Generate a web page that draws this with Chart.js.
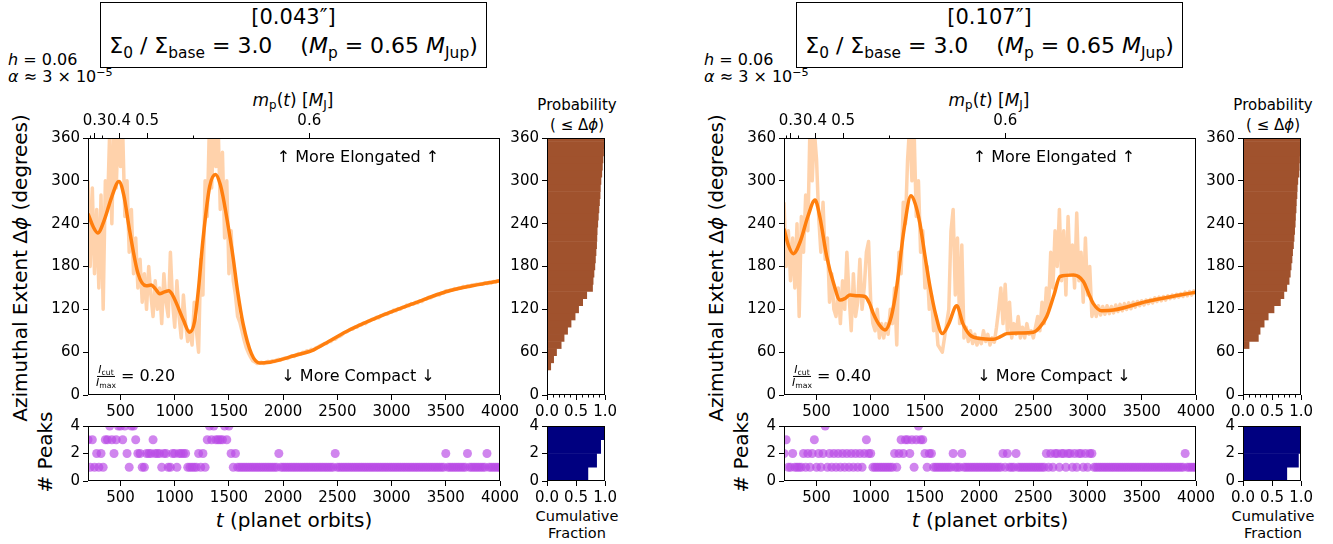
<!DOCTYPE html>
<html><head><meta charset="utf-8">
<script src="https://cdn.jsdelivr.net/npm/chart.js@4.4.1/dist/chart.umd.min.js"></script>
<style>
html,body{margin:0;padding:0;background:#fff}
body{width:1333px;height:544px;position:relative;overflow:hidden;font-family:'DejaVu Sans',sans-serif;color:#000}
canvas{position:absolute}
.tx{position:absolute;white-space:nowrap;line-height:1;transform:translate(-50%,-50%)}
.tl{position:absolute;white-space:nowrap;line-height:1;transform:translate(0,-50%)}
.rot{position:absolute;white-space:nowrap;line-height:1;transform:translate(-50%,-50%) rotate(-90deg)}
sub{font-size:70%;vertical-align:-0.3em;line-height:0}
sup{font-size:70%;vertical-align:0.55em;line-height:0}
.box{position:absolute;border:1.3px solid #000;box-sizing:border-box}
.frac{display:inline-flex;flex-direction:column;align-items:center;vertical-align:middle;font-size:11px;line-height:1.05}
.frac .num{border-bottom:1px solid #000;padding:0 1px}
</style></head><body>
<script>
// ---------------- DATA ----------------
// time grid of the Δφ time series (planet orbits)
const times = [];
for (let t = 200; t <= 4000; t += 20) times.push(t);

const xTicks = [500, 1000, 1500, 2000, 2500, 3000, 3500, 4000];
const yTicks = [0, 60, 120, 180, 240, 300, 360];
const peakTicks = [0, 2, 4];
const fracTicks = [0, 0.5, 1.0];
const fracMinor = [0.1, 0.2, 0.3, 0.4, 0.6, 0.7, 0.8, 0.9];
// top axis: planet mass m_p(t) at these times
const massTickT = [262, 486, 745, 2241];
const massTickLabels = ['0.3', '0.4', '0.5', '0.6'];
const massMinorT = [215, 330, 1165];

// left panel [0.043"] : raw Δφ (every 20 orbits from t=200)
const rawLeft = [
 300,180,290,170,260,150,280,120,300,260,
 370,240,380,290,380,320,370,250,300,200,
 260,170,220,150,190,130,170,120,180,140,
 110,160,120,150,100,170,130,110,200,130,
 95,160,110,80,140,100,75,90,70,130,
 90,60,190,140,300,250,380,290,370,320,
 380,260,340,220,300,170,230,160,140,110,
 102,90,77,66,59,53,48,46,44,45,
 46,44,46,47,46,48,47,49,50,49,
 51,52,51,53,55,54,56,58,57,60,
 60,62,61,64,63,66,67,69,70,72,
 72,75,75,78,78,81,82,84,87,88,
 90,92,92,95,95,98,98,101,100,103,
 104,106,106,109,108,111,112,114,113,116,
 116,119,118,121,120,123,123,126,125,128,
 127,130,129,132,131,134,134,137,136,138,
 139,141,140,143,143,146,145,147,147,149,
 148,150,150,152,151,153,152,154,154,155,
 155,156,156,157,156,158,157,159,158,160,
 160];
// left panel smoothed Δφ
const smoothLeftT = [200,250,290,350,420,485,530,583,660,737,783,820,860,900,946,980,1014,1080,1137,1183,1220,1260,1322,1377,1420,1445,1500,1537,1580,1630,1707,1784,1880,1968,2100,2276,2420,2584,2892,3200,3508,3815,4000];
const smoothLeftV = [254,235,227,245,278,299,280,231,171,153,154,149,142,144,146,140,129,105,88,103,150,217,292,309,295,278,230,194,145,100,58,45,46,49,55,63,75,89,110,128,145,155,160];
// left panel number of peaks (every 20 orbits from t=200, 10 per group)
const peaksLeft = [
 "3131212133","4323443421","4432211222","3222122112","2122221111",
 "1212134343","3334342121","1111111111","1111111121","1111111111",
 "1111111111","1111211111","1111111111","1111111111","1111111111",
 "1111111111","1111121111","1111121111","1111211111","1"].join('');

// right panel [0.107"]
const rawRight = [
 270,180,230,160,220,150,240,110,250,200,
 280,230,380,300,370,330,250,200,270,190,
 220,130,170,120,110,150,100,160,120,200,
 140,90,170,110,130,190,120,150,200,215,
 130,100,90,120,80,100,80,100,85,120,
 100,150,70,200,170,270,240,330,380,300,
 370,250,300,200,230,150,180,120,140,90,
 110,70,65,60,80,100,120,230,260,140,
 220,100,210,80,95,75,90,72,85,70,
 80,72,90,75,85,70,80,74,95,120,
 150,100,155,90,130,80,100,85,110,80,
 95,80,100,85,90,80,95,110,90,130,
 100,150,120,200,150,230,180,260,160,230,
 140,250,170,210,150,255,160,200,130,220,
 140,180,110,125,110,125,112,124,113,125,
 114,124,115,126,117,127,118,128,120,129,
 121,130,123,131,125,132,126,133,128,134,
 129,136,131,137,132,138,133,139,135,140,
 136,141,137,142,138,144,139,145,140,146,
 142];
const smoothRightT = [200,240,286,350,420,486,530,594,660,717,760,809,880,947,990,1024,1080,1132,1190,1240,1310,1371,1410,1454,1500,1546,1600,1660,1720,1793,1850,1915,2008,2131,2200,2254,2377,2500,2560,2623,2690,2746,2869,2961,3010,3053,3130,3239,3545,3852,4000];
const smoothRightV = [233,210,198,215,250,273,250,194,155,133,135,140,139,138,128,114,98,91,110,152,235,279,268,240,195,152,112,86,100,125,100,84,79,78,82,86,87,88,95,110,140,166,168,159,142,128,118,119,131,140,144];
const peaksRight = [
 "2311211112","1212312124","1212121212","1212121232","2111111111",
 "1212323323","1343321221","1111111121","1121111111","1111111111",
 "1212111211","1111111111","1212122122","1221212212","1221111111",
 "1111111111","1111111111","1111111111","1111121111","1"].join('');

// cumulative probability histograms of Δφ (bin centres, 10° bins)
const histBins = [40,50,60,70,80,90,100,110,120,130,140,150,160,170,180,190,200,210,220,230,240,250,260,270,280,290,300,310,320,330,340,350,360];
const histLeft = [0.07,0.12,0.17,0.25,0.30,0.36,0.42,0.49,0.55,0.62,0.69,0.79,0.80,0.815,0.83,0.84,0.85,0.86,0.865,0.87,0.88,0.89,0.90,0.91,0.92,0.925,0.935,0.95,0.96,0.97,0.98,0.99,1.0];
const histRight = [0,0,0.01,0.11,0.27,0.30,0.37,0.44,0.54,0.65,0.71,0.76,0.80,0.82,0.835,0.85,0.86,0.875,0.885,0.895,0.905,0.91,0.92,0.925,0.935,0.94,0.95,0.97,0.975,0.98,0.985,0.99,1.0];
// cumulative fraction of # peaks
const peakBins = [0.5, 1.5, 2.5, 3.5];
const cumLeft = [0.71, 0.86, 0.93, 1.0];
const cumRight = [0.76, 0.96, 1.0, 1.0];

// ---------------- DRAWING ----------------
Chart.defaults.font.family = "'DejaVu Sans', sans-serif";
const TF = {family: "'DejaVu Sans', sans-serif", size: 15};

const boxPlugin = {id: 'box', afterDraw(c) {
  const a = c.chartArea, x = c.ctx;
  x.save(); x.strokeStyle = '#000'; x.lineWidth = 1;
  x.strokeRect(Math.round(a.left) + 0.5, Math.round(a.top) + 0.5, Math.round(a.right - a.left) - 1, Math.round(a.bottom - a.top) - 1);
  x.restore();
}};
function minorPlugin(axisId, values, len, side) {
  return {id: 'minor' + axisId, afterDraw(c) {
    const s = c.scales[axisId], a = c.chartArea, x = c.ctx;
    x.save(); x.strokeStyle = '#000'; x.lineWidth = 1; x.beginPath();
    values.forEach(v => {
      const p = Math.round(s.getPixelForValue(v)) + 0.5;
      if (side === 'top') { x.moveTo(p, a.top); x.lineTo(p, a.top - len); }
      else { x.moveTo(p, a.bottom); x.lineTo(p, a.bottom + len); }
    });
    x.stroke(); x.restore();
  }};
}
function ax(o) {
  const base = {
    type: 'linear', offset: false,
    grid: {display: true, offset: false, drawOnChartArea: false, drawTicks: true, tickLength: 5, color: '#000', lineWidth: 1},
    border: {display: false},
    ticks: {color: '#000', font: TF, padding: 3, autoSkip: false, maxRotation: 0, minRotation: 0, callback: v => String(v)}
  };
  const r = Object.assign({}, base, o);
  r.ticks = Object.assign({}, base.ticks, o.ticks || {});
  return r;
}
function fixTicks(vals) { return s => { s.ticks = vals.map(v => ({value: v})); }; }
function mkCanvas(left, top, w, h) {
  const c = document.createElement('canvas');
  c.width = w; c.height = h;
  c.style.left = left + 'px'; c.style.top = top + 'px';
  c.style.width = w + 'px'; c.style.height = h + 'px';
  document.body.appendChild(c);
  return c;
}
const baseOpts = {responsive: false, animation: false, events: [], devicePixelRatio: 1,
  plugins: {legend: {display: false}, tooltip: {enabled: false}}};

function txt(html, cx, cy, size, cls) {
  const d = document.createElement('div');
  d.className = cls || 'tx';
  d.style.left = cx + 'px'; d.style.top = cy + 'px'; d.style.fontSize = size + 'px';
  d.innerHTML = html;
  document.body.appendChild(d);
  return d;
}

function panel(dx, sp) {
  // title box
  const b = document.createElement('div');
  b.className = 'box';
  b.style.left = (100 + dx) + 'px'; b.style.top = '2px'; b.style.width = '387px'; b.style.height = '66px';
  document.body.appendChild(b);
  txt(sp.title, 293.5 + dx, 17, 21);
  txt('Σ<sub>0</sub> / Σ<sub>base</sub> = 3.0 &nbsp;&nbsp; (<i>M</i><sub>p</sub> = 0.65 <i>M</i><sub>Jup</sub>)', 293.5 + dx, 46, 22);
  txt('<i>h</i> = 0.06', 8 + dx, 60, 16, 'tl');
  txt('<i>α</i> ≈ 3 × 10<sup>−5</sup>', 8 + dx, 77, 16, 'tl');
  txt('<i>m</i><sub>p</sub>(<i>t</i>) [<i>M</i><sub>J</sub>]', 293 + dx, 100, 17);
  txt('Probability', 577 + dx, 105, 15);
  txt('( ≤ Δ<i>ϕ</i>)', 577 + dx, 125, 15);
  txt('Cumulative', 577 + dx, 516, 14.5);
  txt('Fraction', 577 + dx, 533, 14.5);
  txt('<i>t</i> (planet orbits)', 294 + dx, 520, 20);
  txt('Azimuthal Extent Δ<i>ϕ</i> (degrees)', 20 + dx, 268, 20, 'rot');
  txt('# Peaks', 45 + dx, 452, 20, 'rot');

  // main time series
  new Chart(mkCanvas(dx, 80, 530, 345), {
    type: 'line',
    data: {datasets: [
      {data: times.map((t, i) => ({x: t, y: sp.raw[i]})), borderColor: 'rgba(255,127,14,0.35)', borderWidth: 3.5, pointRadius: 0, tension: 0, borderJoinStyle: 'round'},
      {data: sp.sT.map((t, i) => ({x: t, y: sp.sV[i]})), borderColor: '#ff7f0e', borderWidth: 3.5, pointRadius: 0, cubicInterpolationMode: 'monotone'}
    ]},
    options: Object.assign({}, baseOpts, {
      layout: {padding: {left: 0, right: 30, top: 0, bottom: 0}},
      scales: {
        x: ax({position: 'bottom', min: 200, max: 4000, afterFit: s => { s.height = 30; }, afterBuildTicks: fixTicks(xTicks)}),
        x2: ax({position: 'top', min: 200, max: 4000, afterFit: s => { s.height = 58; }, afterBuildTicks: fixTicks(massTickT),
                ticks: {callback: (v, i) => massTickLabels[i]}}),
        y: ax({min: 0, max: 360, afterFit: s => { s.width = 88; }, afterBuildTicks: fixTicks(yTicks)})
      }
    }),
    plugins: [boxPlugin, minorPlugin('x2', massMinorT, 2.5, 'top')]
  });

  // peaks scatter
  new Chart(mkCanvas(dx, 400, 530, 144), {
    type: 'scatter',
    data: {datasets: [{data: times.map((t, i) => ({x: t, y: Number(sp.peaks[i])})), backgroundColor: 'rgba(185,75,230,0.68)', borderWidth: 0, pointRadius: 4.5}]},
    options: Object.assign({}, baseOpts, {
      layout: {padding: {left: 0, right: 30, top: 26, bottom: 33}},
      scales: {
        x: ax({position: 'bottom', min: 200, max: 4000, afterFit: s => { s.height = 30; }, afterBuildTicks: fixTicks(xTicks)}),
        y: ax({min: 0, max: 4, afterFit: s => { s.width = 88; }, afterBuildTicks: fixTicks(peakTicks)})
      }
    }),
    plugins: [boxPlugin]
  });

  // cumulative probability histogram
  new Chart(mkCanvas(510 + dx, 80, 110, 345), {
    type: 'bar',
    data: {datasets: [{data: histBins.map((bv, i) => ({x: sp.hist[i], y: bv})), backgroundColor: '#a0522d', borderWidth: 0, categoryPercentage: 1, barPercentage: 1.08}]},
    options: Object.assign({}, baseOpts, {
      indexAxis: 'y',
      layout: {padding: {left: 0, right: 14, top: 58, bottom: 0}},
      scales: {
        x: ax({position: 'bottom', min: 0, max: 1, afterFit: s => { s.height = 30; }, afterBuildTicks: fixTicks(fracTicks), ticks: {callback: v => v.toFixed(1)}}),
        y: ax({min: 0, max: 360, afterFit: s => { s.width = 37; }, afterBuildTicks: fixTicks(yTicks)})
      }
    }),
    plugins: [boxPlugin, minorPlugin('x', fracMinor, 2.5, 'bottom')]
  });

  // cumulative fraction of peaks
  new Chart(mkCanvas(510 + dx, 400, 110, 144), {
    type: 'bar',
    data: {datasets: [{data: peakBins.map((bv, i) => ({x: sp.cum[i], y: bv})), backgroundColor: '#000080', borderWidth: 0, categoryPercentage: 1, barPercentage: 1.02}]},
    options: Object.assign({}, baseOpts, {
      indexAxis: 'y',
      layout: {padding: {left: 0, right: 14, top: 26, bottom: 33}},
      scales: {
        x: ax({position: 'bottom', min: 0, max: 1, afterFit: s => { s.height = 30; }, afterBuildTicks: fixTicks(fracTicks), ticks: {callback: v => v.toFixed(1)}}),
        y: ax({min: 0, max: 4, afterFit: s => { s.width = 37; }, afterBuildTicks: fixTicks(peakTicks)})
      }
    }),
    plugins: [boxPlugin]
  });

  // annotations in plot
  txt('↑ More Elongated ↑', 358 + dx, 157, 16);
  txt('↓ More Compact ↓', 358 + dx, 376, 16);
  txt('<span class="frac"><span class="num"><i>I</i><sub>cut</sub></span><span><i>I</i><sub>max</sub></span></span> = ' + sp.cut, 96 + dx, 376, 16, 'tl');
}

panel(0, {title: '[0.043″]', raw: rawLeft, sT: smoothLeftT, sV: smoothLeftV, peaks: peaksLeft, hist: histLeft, cum: cumLeft, cut: '0.20'});
panel(696, {title: '[0.107″]', raw: rawRight, sT: smoothRightT, sV: smoothRightV, peaks: peaksRight, hist: histRight, cum: cumRight, cut: '0.40'});
</script>
</body></html>
